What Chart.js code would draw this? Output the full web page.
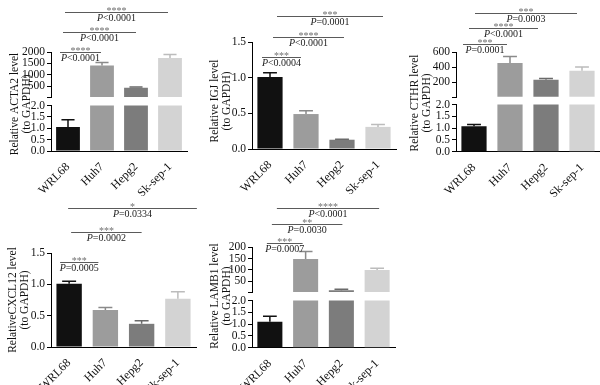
<!DOCTYPE html>
<html><head><meta charset="utf-8">
<script src="https://cdn.jsdelivr.net/npm/chart.js@4"></script>
<style>
html,body{margin:0;padding:0;background:#fff;}
#wrap{position:relative;width:600px;height:385px;overflow:hidden;background:#fff;}
canvas{position:absolute;}
</style></head><body><div id="wrap"></div>
<script>
// ---------- data ----------
const categories = ['WRL68', 'Huh7', 'Hepg2', 'Sk-sep-1'];

const acta2Mean = [1.05, 1405, 430, 1735];
const acta2Err  = [0.32, 135, 30, 160];

const igjMean = [1.01, 0.49, 0.13, 0.31];
const igjErr  = [0.06, 0.045, 0.006, 0.035];

const cthrMean = [1.08, 455, 232, 352];
const cthrErr  = [0.07, 86, 18, 48];

const cxcl12Mean = [1.01, 0.59, 0.37, 0.77];
const cxcl12Err  = [0.04, 0.04, 0.05, 0.11];

const lamb1Mean = [1.1, 148, 10, 100];
const lamb1Err  = [0.23, 33, 4, 7];

// ---------- style ----------
const FONT = '"Liberation Serif", "Times New Roman", serif';
const barColors = ['#111111', '#9c9c9c', '#7c7c7c', '#d3d3d3'];
const errColors = ['#111111', '#8a8a8a', '#6a6a6a', '#bcbcbc'];
const wrap = document.getElementById('wrap');

// values shown in the upper segment of a broken axis (only those above the break)
const aboveBreak = (arr, brk) => arr.map(v => (v > brk ? v : null));

const errPlugin = {
  id: 'errBars',
  afterDatasetsDraw(chart, args, o) {
    if (!o || !o.err) return;
    const meta = chart.getDatasetMeta(0);
    const ys = chart.scales.y;
    const vals = chart.data.datasets[0].data;
    const ctx = chart.ctx;
    ctx.save();
    meta.data.forEach((bar, i) => {
      const m = vals[i], e = o.err[i];
      if (m === null || m === undefined) return;
      if (m < o.lo || m + e > o.hi) return;
      const x = bar.x, y1 = ys.getPixelForValue(m), y2 = ys.getPixelForValue(m + e);
      const w = bar.width * 0.55;
      ctx.strokeStyle = errColors[i];
      ctx.lineWidth = 1.5;
      ctx.beginPath();
      ctx.moveTo(x, y1); ctx.lineTo(x, y2);
      ctx.moveTo(x - w / 2, y2); ctx.lineTo(x + w / 2, y2);
      ctx.stroke();
    });
    ctx.restore();
  }
};

const bracketPlugin = {
  id: 'brackets',
  afterDraw(chart, args, o) {
    if (!o || !o.list) return;
    const xs = chart.scales.x, ctx = chart.ctx;
    ctx.save();
    o.list.forEach(b => {
      const x1 = xs.getPixelForValue(0) + b.dx[0];
      const x2 = xs.getPixelForValue(b.to) + b.dx[1];
      const y = Math.round(b.y - o.oy) + 0.5;
      const cx = (x1 + x2) / 2;
      ctx.strokeStyle = '#5a5a5a';
      ctx.lineWidth = 1;
      ctx.beginPath(); ctx.moveTo(x1, y); ctx.lineTo(x2, y); ctx.stroke();
      // stars
      ctx.fillStyle = '#707070';
      ctx.font = '10px ' + FONT;
      ctx.textAlign = 'center';
      ctx.textBaseline = 'alphabetic';
      ctx.fillText(b.s, cx, y + 1);
      // P value
      ctx.fillStyle = '#222';
      ctx.textBaseline = 'middle';
      ctx.font = 'italic 10px ' + FONT;
      const wP = ctx.measureText('P').width;
      ctx.font = '10px ' + FONT;
      const wR = ctx.measureText(b.p).width;
      const sx = cx - (wP + wR) / 2;
      ctx.textAlign = 'left';
      ctx.font = 'italic 10px ' + FONT;
      ctx.fillText('P', sx, y + 6);
      ctx.font = '10px ' + FONT;
      ctx.fillText(b.p, sx + wP, y + 6);
    });
    ctx.restore();
  }
};

const titlePlugin = {
  id: 'ytitle',
  afterDraw(chart, args, o) {
    if (!o || !o.lines) return;
    const ctx = chart.ctx;
    ctx.save();
    ctx.fillStyle = '#111';
    ctx.font = '11.5px ' + FONT;
    ctx.textAlign = 'center';
    ctx.textBaseline = 'middle';
    o.lines.forEach((t, i) => {
      ctx.save();
      ctx.translate(o.xs[i] - o.ox, o.cy - o.oy);
      ctx.rotate(-Math.PI / 2);
      ctx.fillText(t, 0, 0);
      ctx.restore();
    });
    ctx.restore();
  }
};

function makeChart(box, area, values, o) {
  const c = document.createElement('canvas');
  c.width = box.w; c.height = box.h;
  c.style.left = box.x + 'px'; c.style.top = box.y + 'px';
  c.style.width = box.w + 'px'; c.style.height = box.h + 'px';
  wrap.appendChild(c);
  const Wy = 40, Hx = o.showX ? 45 : 0;
  const pad = {
    left: area.L - box.x - Wy,
    top: area.T - box.y,
    right: box.x + box.w - area.R,
    bottom: box.y + box.h - area.B - Hx
  };
  return new Chart(c, {
    type: 'bar',
    data: {
      labels: categories,
      datasets: [{
        data: values, backgroundColor: barColors, borderWidth: 0,
        barPercentage: 0.7, categoryPercentage: 1, clip: 0
      }]
    },
    options: {
      responsive: false, animation: false, devicePixelRatio: 1,
      layout: { padding: pad },
      plugins: {
        legend: { display: false }, tooltip: { enabled: false },
        errBars: { err: o.err, lo: o.lo, hi: o.hi },
        brackets: o.brackets ? { list: o.brackets, oy: box.y } : {},
        ytitle: o.title ? { lines: o.title.lines, xs: o.title.xs, cy: o.title.cy, ox: box.x, oy: box.y } : {}
      },
      scales: {
        x: {
          display: !!o.showX,
          grid: { display: false },
          border: { display: true, color: '#000', width: 1 },
          ticks: { autoSkip: false, minRotation: 45, maxRotation: 45, padding: 1, color: '#111',
                   font: { family: FONT, size: 12 } },
          afterFit: s => { s.height = Hx; }
        },
        y: {
          min: o.min, max: o.max,
          ticks: { stepSize: o.step, autoSkip: false, padding: 2, color: '#111',
                   font: { family: FONT, size: 11.5 }, callback: o.fmt },
          grid: { drawOnChartArea: false, drawTicks: true, tickLength: 4, color: '#000' },
          border: { display: true, color: '#000', width: 1 },
          afterFit: s => { s.width = Wy; }
        }
      }
    },
    plugins: [errPlugin, bracketPlugin, titlePlugin]
  });
}

const fmt1 = v => Number(v).toFixed(1);
const fmtUp = v => (v === 0 ? '' : String(v));

// ---------- ACTA2 (broken axis) ----------
const boxA = { x: 0, y: 0, w: 200, h: 205 };
makeChart(boxA, { L: 51, T: 52, R: 187, B: 97.5 }, aboveBreak(acta2Mean, 2), {
  showX: false, min: 0, max: 2000, step: 500, fmt: fmtUp, err: acta2Err, lo: 2, hi: 1e9,
  brackets: [
    { to: 1, y: 52, s: '****', p: '<0.0001', dx: [-8, -1] },
    { to: 2, y: 32, s: '****', p: '<0.0001', dx: [-5, 0] },
    { to: 3, y: 12, s: '****', p: '<0.0001', dx: [-3, -2] }
  ]
});
makeChart(boxA, { L: 51, T: 105.5, R: 187, B: 151 }, acta2Mean, {
  showX: true, min: 0, max: 2, step: 0.5, fmt: fmt1, err: acta2Err, lo: -1, hi: 2,
  title: { lines: ['Relative ACTA2 level', '(to GAPDH)'], xs: [15, 27], cy: 104 }
});

// ---------- IGJ ----------
const boxB = { x: 200, y: 0, w: 200, h: 205 };
makeChart(boxB, { L: 252, T: 42, R: 396, B: 149 }, igjMean, {
  showX: true, min: 0, max: 1.5, step: 0.5, fmt: fmt1, err: igjErr, lo: -1, hi: 1e9,
  brackets: [
    { to: 1, y: 57, s: '***', p: '<0.0004', dx: [-8, -5] },
    { to: 2, y: 37, s: '****', p: '<0.0001', dx: [3, 2] },
    { to: 3, y: 16, s: '***', p: '=0.0001', dx: [7, 5] }
  ],
  title: { lines: ['Relative IGJ level', '(to GAPDH)'], xs: [215, 227], cy: 101 }
});

// ---------- CTHR (broken axis) ----------
const boxC = { x: 400, y: 0, w: 200, h: 205 };
makeChart(boxC, { L: 456, T: 52, R: 600, B: 97.3 }, aboveBreak(cthrMean, 2), {
  showX: false, min: 0, max: 600, step: 200, fmt: fmtUp, err: cthrErr, lo: 2, hi: 1e9,
  brackets: [
    { to: 1, y: 44, s: '***', p: '=0.0001', dx: [-11, -3] },
    { to: 2, y: 28, s: '****', p: '<0.0001', dx: [-5, -8] },
    { to: 3, y: 13, s: '***', p: '=0.0003', dx: [1, -5] }
  ]
});
makeChart(boxC, { L: 456, T: 104.5, R: 600, B: 151.7 }, cthrMean, {
  showX: true, min: 0, max: 2, step: 0.5, fmt: fmt1, err: cthrErr, lo: -1, hi: 2,
  title: { lines: ['Relative CTHR level', '(to GAPDH)'], xs: [415, 427], cy: 103 }
});

// ---------- CXCL12 ----------
const boxD = { x: 0, y: 185, w: 200, h: 220 };
makeChart(boxD, { L: 51, T: 253, R: 196, B: 347 }, cxcl12Mean, {
  showX: true, min: 0, max: 1.5, step: 0.5, fmt: fmt1, err: cxcl12Err, lo: -1, hi: 1e9,
  brackets: [
    { to: 1, y: 262, s: '***', p: '=0.0005', dx: [-9, -7] },
    { to: 2, y: 232, s: '***', p: '=0.0002', dx: [2, 0] },
    { to: 3, y: 208, s: '*', p: '=0.0334', dx: [-1, 19] }
  ],
  title: { lines: ['RelativeCXCL12 level', '(to GAPDH)'], xs: [13, 25], cy: 300 }
});

// ---------- LAMB1 (broken axis) ----------
const boxE = { x: 200, y: 185, w: 200, h: 220 };
makeChart(boxE, { L: 252, T: 247.3, R: 395, B: 292.5 }, aboveBreak(lamb1Mean, 2), {
  showX: false, min: 0, max: 200, step: 50, fmt: fmtUp, err: lamb1Err, lo: 2, hi: 1e9,
  brackets: [
    { to: 1, y: 243, s: '***', p: '=0.0007', dx: [-3, -3] },
    { to: 2, y: 224, s: '**', p: '=0.0030', dx: [2, 1] },
    { to: 3, y: 208, s: '****', p: '<0.0001', dx: [7, 2] }
  ]
});
makeChart(boxE, { L: 252, T: 300.5, R: 395, B: 347.7 }, lamb1Mean, {
  showX: true, min: 0, max: 2, step: 0.5, fmt: fmt1, err: lamb1Err, lo: -1, hi: 2,
  title: { lines: ['Relative LAMB1 level', '(to GAPDH)'], xs: [215, 227], cy: 296 }
});
</script>
</body></html>
